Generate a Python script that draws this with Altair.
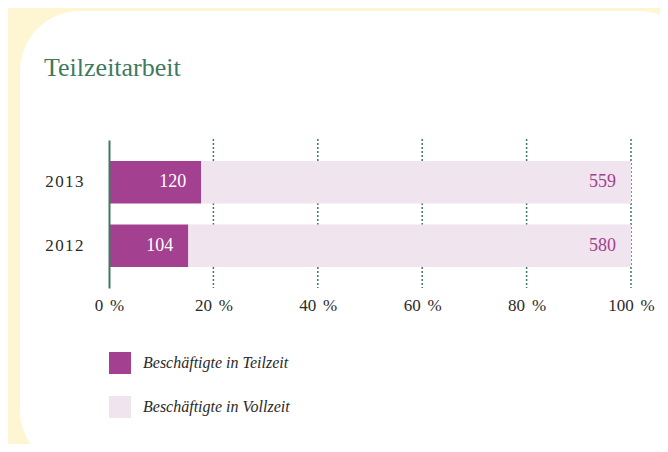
import altair as alt
import pandas as pd

# ---- data ----
years = ["2013", "2012"]
teilzeit = [120, 104]
vollzeit = [559, 580]
categories = ["Beschäftigte in Teilzeit", "Beschäftigte in Vollzeit"]
x_ticks = [0, 0.2, 0.4, 0.6, 0.8, 1.0]
title_text = "Teilzeitarbeit"

rows = []
for y, t, v in zip(years, teilzeit, vollzeit):
    rows.append({"year": y, "cat": categories[0], "value": t, "ord": 0})
    rows.append({"year": y, "cat": categories[1], "value": v, "ord": 1})
df = pd.DataFrame(rows)

PURPLE = "#A3408F"
LIGHT = "#F0E4EF"
GREEN = "#3E7A5E"
CREAM = "#FEF6D2"
TEXT = "#2a2a2a"
FONT = "Liberation Serif"
W, H = 522, 148

xscale = alt.Scale(domain=[0, 1])
xaxis = alt.Axis(values=x_ticks, labelExpr="round(datum.value*100) + '\u2009\u2009%'", title=None,
                 grid=False, domain=False, ticks=False, labelFont=FONT, labelFontSize=17,
                 labelColor=TEXT, labelPadding=9, labelFlush=False, zindex=1)
yscale = alt.Scale(paddingInner=0.333, paddingOuter=0.33)
yaxis = alt.Axis(title=None, domain=True, domainColor=GREEN, domainWidth=2, ticks=False,
                 labelExpr="join(split(datum.label, ''), '\u200a')",
                 labelFont=FONT, labelFontSize=17, labelColor=TEXT, labelPadding=26, zindex=1)

panel = alt.Chart(alt.Data(values=[{}])).mark_rect(color="white", cornerRadius=60).encode(
    x=alt.value(-89), x2=alt.value(590), y=alt.value(-129), y2=alt.value(330)
)

title = alt.Chart(alt.Data(values=[{"t": title_text}])).mark_text(
    align="left", baseline="alphabetic", font=FONT, fontSize=26, color=GREEN
).encode(x=alt.value(-65), y=alt.value(-64), text="t:N")

grid = alt.Chart(pd.DataFrame({"v": x_ticks[1:]})).mark_rule(
    color=GREEN, strokeDash=[2, 2], strokeWidth=1.5
).encode(
    x=alt.X("v:Q", scale=xscale, axis=xaxis),
    y=alt.value(-1), y2=alt.value(H)
)

bars = alt.Chart(df).mark_bar().encode(
    x=alt.X("value:Q", stack="normalize", scale=xscale, axis=xaxis),
    y=alt.Y("year:N", sort=years, scale=yscale, axis=yaxis),
    color=alt.Color("cat:N", scale=alt.Scale(domain=categories, range=[PURPLE, LIGHT]),
                    legend=alt.Legend(title=None, orient="none", legendX=0, legendY=212,
                                      direction="vertical", symbolType="square", symbolSize=484,
                                      symbolStrokeWidth=0, labelFont=FONT, labelFontStyle="italic",
                                      labelFontSize=16, labelColor=TEXT, labelOffset=12,
                                      rowPadding=22, padding=0, zindex=1)),
    order=alt.Order("ord:Q"),
)

base_t = alt.Chart(df).transform_joinaggregate(
    total="sum(value)", groupby=["year"]
).transform_calculate(share="datum.value / datum.total", endpos="1")

tz_text = base_t.transform_filter(alt.datum.ord == 0).mark_text(
    align="right", baseline="middle", dx=-15, font=FONT, fontSize=18, color="white"
).encode(
    x=alt.X("share:Q", scale=xscale, axis=xaxis),
    y=alt.Y("year:N", sort=years, scale=yscale, axis=yaxis),
    text="value:Q",
)

vz_text = base_t.transform_filter(alt.datum.ord == 1).mark_text(
    align="right", baseline="middle", dx=-15, font=FONT, fontSize=18, color=PURPLE
).encode(
    x=alt.X("endpos:Q", scale=xscale, axis=xaxis),
    y=alt.Y("year:N", sort=years, scale=yscale, axis=yaxis),
    text="value:Q",
)

chart = alt.layer(panel, grid, bars, tz_text, vz_text, title).properties(
    width=W, height=H,
    padding={"left": 101, "top": 132, "right": 29, "bottom": 156},
    autosize="none",
    background=CREAM,
).configure_view(stroke=None)

chart.save("out.html", embed_options={"renderer": "svg", "actions": False})
